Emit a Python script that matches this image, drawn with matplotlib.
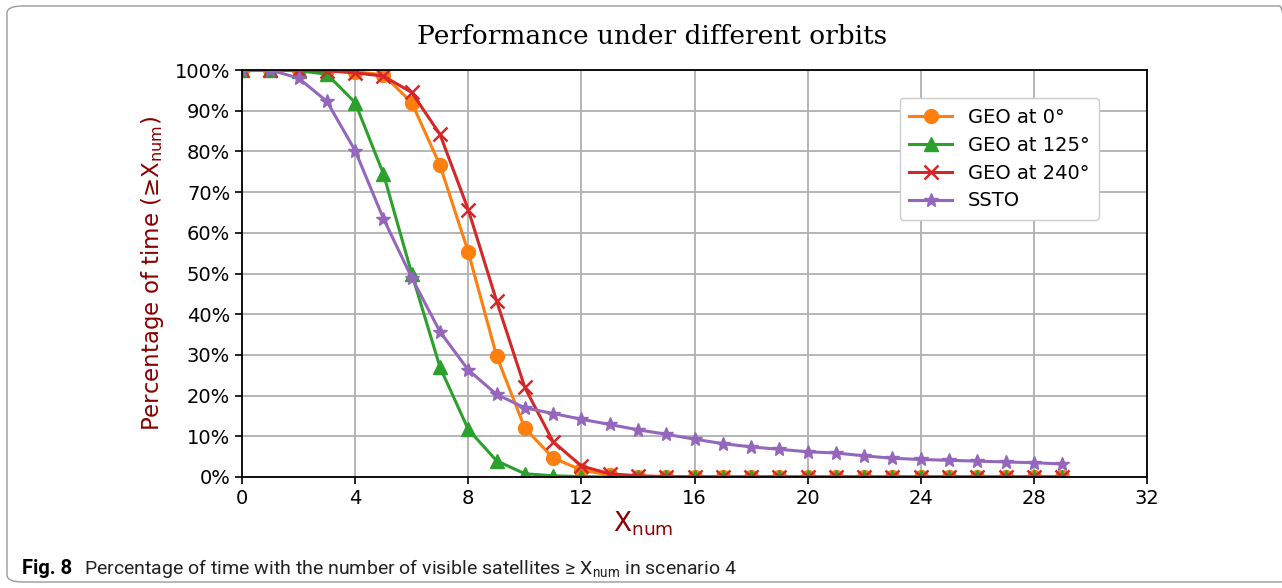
import matplotlib
matplotlib.use("Agg")
import matplotlib.pyplot as plt
from matplotlib.patches import FancyBboxPatch
from matplotlib.ticker import PercentFormatter

# x = number of visible satellites
x_num = list(range(30))

# percentage of time with >= x_num visible satellites
geo_0 = [100, 100, 100, 100, 99.6, 98.8, 92.0, 76.6, 55.3, 29.8, 12.0, 4.7, 1.7, 0.5,
         0.1, 0, 0, 0, 0, 0, 0, 0, 0, 0, 0, 0, 0, 0, 0, 0]
geo_125 = [100, 100, 99.8, 99.0, 92.0, 74.5, 50.0, 27.0, 11.7, 4.0, 0.8, 0.3, 0.1, 0,
           0, 0, 0, 0, 0, 0, 0, 0, 0, 0, 0, 0, 0, 0, 0, 0]
geo_240 = [100, 100, 100, 99.8, 99.3, 98.5, 94.5, 84.2, 65.7, 43.3, 22.0, 8.7, 2.7, 0.8,
           0.3, 0.1, 0, 0, 0, 0, 0, 0, 0, 0, 0, 0, 0, 0, 0, 0]
ssto = [100, 100, 98.0, 92.3, 80.2, 63.5, 49.0, 35.7, 26.3, 20.3, 17.0, 15.6, 14.2, 12.9,
        11.6, 10.5, 9.3, 8.2, 7.4, 6.8, 6.2, 5.9, 5.2, 4.6, 4.3, 4.1, 3.9, 3.7, 3.5, 3.2]

series = [
    ("GEO at 0°", geo_0, "#ff7f0e", "o"),
    ("GEO at 125°", geo_125, "#2ca02c", "^"),
    ("GEO at 240°", geo_240, "#d62728", "x"),
    ("SSTO", ssto, "#9467bd", "*"),
]

fig = plt.figure(figsize=(12.82, 5.88), dpi=100)
ax = fig.add_axes([242 / 1282, 1 - 477 / 588, (1147 - 242) / 1282, (477 - 70) / 588])

for label, vals, color, marker in series:
    ax.plot(x_num, vals, color=color, marker=marker, label=label, linewidth=2.2,
            markersize=10, markeredgewidth=1.8 if marker == "x" else 1)

ax.set_xlim(0, 32)
ax.set_ylim(0, 100)
ax.set_xticks(range(0, 33, 4))
ax.set_yticks(range(0, 101, 10))
ax.yaxis.set_major_formatter(PercentFormatter(decimals=0))
ax.tick_params(labelsize=14, direction="out", length=5, width=1.2)
ax.grid(True, color="#b0b0b0", linewidth=1.3)
for s in ax.spines.values():
    s.set_linewidth(1.3)

ax.set_xlabel("X$_{\\mathregular{num}}$", color="#8b0000", fontsize=19)
ax.xaxis.set_label_coords((643 - 242) / 905, -0.08)
ax.set_ylabel("Percentage of time (≥X$_{\\mathregular{num}}$)", color="#8b0000", fontsize=16.5,
              labelpad=6)
# title sits centred on the figure rather than on the axes
fig.text(652 / 1282, 1 - 37 / 588, "Performance under different orbits",
         family="DejaVu Serif", fontsize=19, ha="center", va="center")

ax.legend(loc="upper right", bbox_to_anchor=(0.947, 0.93), borderaxespad=0, fontsize=14,
          framealpha=1, handlelength=2.2, borderpad=0.5, labelspacing=0.45)

# journal frame and caption
frame = FancyBboxPatch((7 / 1282, 6 / 588), 1 - 7 / 1282 + 0.01, 1 - 12 / 588,
                       boxstyle="round,pad=0,rounding_size=0.012", transform=fig.transFigure,
                       facecolor="none", edgecolor="#9a9a9a", linewidth=1.0, clip_on=False)
fig.patches.append(frame)
fig.text(22 / 1282, 1 - 574 / 588, "Fig. 8", fontsize=14.5, fontweight="bold",
         family=["Roboto", "DejaVu Sans"], va="baseline")
fig.text(84 / 1282, 1 - 574 / 588,
         "Percentage of time with the number of visible satellites ≥ X$_{\\mathregular{num}}$ in scenario 4",
         fontsize=14, family=["Roboto", "DejaVu Sans"], va="baseline", color="#222222")

fig.savefig("out.png", dpi=100)
